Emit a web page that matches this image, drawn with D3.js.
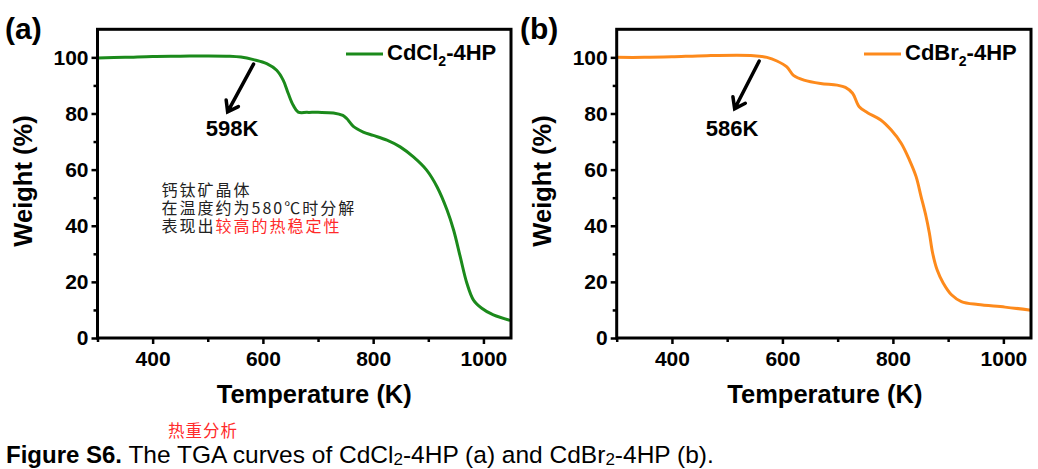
<!DOCTYPE html>
<html>
<head>
<meta charset="utf-8">
<script src="https://cdn.jsdelivr.net/npm/d3@7"></script>
<style>
html,body{margin:0;padding:0;background:#fff;}
svg{display:block;}
.ax text{font-family:'Liberation Sans',Arial,sans-serif;font-weight:700;font-size:21px;fill:#000;}
.ax line{stroke:#000;stroke-width:2.5px;}
.ax path{display:none;}
.bold{font-family:'Liberation Sans',Arial,sans-serif;font-weight:700;fill:#000;}
.cjk{font-family:'Noto Sans CJK SC',sans-serif;}
</style>
</head>
<body>
<svg id="fig" width="1038" height="469"></svg>
<script>
// TGA curves: temperature (K) and weight (%)
const tempsA =[300,350,400,450,500,540,560,583,607,625,637,646,655,664,680,700,728,745,752,764,782,800,825,849,873,897,916,934,946,958,970,982,997,1018,1050];
const weightA=[99.8,100,100.3,100.4,100.5,100.4,100.1,99.2,97.8,95.4,91.8,87.1,82.9,80.5,80.4,80.4,80.2,79.3,78.2,75.4,73.4,72.2,70.5,68.1,64.5,59.8,53.8,45.6,38.4,28.9,19.5,13.5,10.6,8.2,6.2];
const tempsB =[300,350,400,463,548,572,590,608,620,639,669,699,714,727,739,754,778,797,815,830,842,851,860,866,872,880,891,906,924,954,1003,1050];
const weightB=[100,100,100.2,100.6,100.6,100,98.7,96.6,93.6,91.9,90.7,90.1,89.3,87.2,82.4,80.3,77.7,74.1,69.4,63.4,57.5,50.4,43.3,37.4,30.2,24.3,19.6,15.4,13.0,11.9,11.0,9.9];

const xDomain=[300,1050], yDomain=[0,110];
const xTicks=[400,600,800,1000], xMinor=[300,500,700,900];
const yTicks=[0,20,40,60,80,100], yMinor=[10,30,50,70,90];

// onset annotations: arrow start, arrow tip, label anchor (data units)
const arrowA=[[583,97.6],[536,80.6]], labelA=[544,71.9], onsetA='598K';
const arrowB=[[558,98.7],[513.5,81.7]], labelB=[509,71.9], onsetB='586K';

const noteLines=['钙钛矿晶体','在温度约为580℃时分解'];
const noteLast=['表现出','较高的热稳定性'];

const svg=d3.select('#fig');

const panels=[
  {tag:'(a)',lx:5,x0:97.5,x1:511,temps:tempsA,weight:weightA,color:'#1b8a1b',name:'CdCl',legX:346,
   arrow:arrowA,label:labelA,onset:onsetA,titleDx:10},
  {tag:'(b)',lx:520,x0:616.7,x1:1031,temps:tempsB,weight:weightB,color:'#fd8a1c',name:'CdBr',legX:864,
   arrow:arrowB,label:labelB,onset:onsetB,titleDx:1}
];
const plotTop=29.3,plotBottom=338;

panels.forEach((p,i)=>{
  const x=d3.scaleLinear().domain(xDomain).range([p.x0,p.x1]);
  const y=d3.scaleLinear().domain(yDomain).range([plotBottom,plotTop]);
  const g=svg.append('g');

  // axes
  g.append('g').attr('class','ax').attr('transform',`translate(0,${plotBottom})`)
    .call(d3.axisBottom(x).tickValues(xTicks).tickSize(6).tickSizeOuter(0).tickPadding(7).tickFormat(d3.format('d')));
  g.append('g').attr('class','ax').attr('transform',`translate(0,${plotBottom})`)
    .call(d3.axisBottom(x).tickValues(xMinor).tickSize(4).tickSizeOuter(0).tickFormat(''));
  g.append('g').attr('class','ax').attr('transform',`translate(${p.x0},0)`)
    .call(d3.axisLeft(y).tickValues(yTicks).tickSize(6).tickSizeOuter(0).tickPadding(3));
  g.append('g').attr('class','ax').attr('transform',`translate(${p.x0},0)`)
    .call(d3.axisLeft(y).tickValues(yMinor).tickSize(4).tickSizeOuter(0).tickFormat(''));

  const cid='clip'+i;
  g.append('clipPath').attr('id',cid).append('rect')
    .attr('x',p.x0).attr('y',plotTop).attr('width',p.x1-p.x0).attr('height',plotBottom-plotTop);

  const line=d3.line().x((d,j)=>x(p.temps[j])).y(d=>y(d)).curve(d3.curveCatmullRom.alpha(0.5));
  g.append('path').datum(p.weight).attr('clip-path',`url(#${cid})`)
    .attr('d',line).attr('fill','none').attr('stroke',p.color).attr('stroke-width',3)
    .attr('stroke-linejoin','round').attr('stroke-linecap','round');

  // frame
  g.append('rect').attr('x',p.x0).attr('y',plotTop).attr('width',p.x1-p.x0).attr('height',plotBottom-plotTop)
    .attr('fill','none').attr('stroke','#000').attr('stroke-width',3);

  // titles
  g.append('text').attr('class','bold').attr('font-size',25.5).attr('text-anchor','middle')
    .attr('x',(p.x0+p.x1)/2+p.titleDx).attr('y',403).text('Temperature (K)');
  g.append('text').attr('class','bold').attr('font-size',25.5).attr('text-anchor','middle')
    .attr('transform',`translate(${p.x0-66},181) rotate(-90)`).text('Weight (%)');
  g.append('text').attr('class','bold').attr('font-size',30).attr('x',p.lx).attr('y',39).text(p.tag);

  // legend
  g.append('line').attr('x1',p.legX).attr('x2',p.legX+37).attr('y1',54).attr('y2',54)
    .attr('stroke',p.color).attr('stroke-width',3);
  const lt=g.append('text').attr('class','bold').attr('font-size',22).attr('x',p.legX+41).attr('y',60);
  lt.append('tspan').text(p.name);
  lt.append('tspan').attr('font-size',14).attr('dy',6).text('2');
  lt.append('tspan').attr('dy',-6).text('-4HP');

  // onset arrow
  const [s,t]=p.arrow.map(d=>[x(d[0]),y(d[1])]);
  const ang=Math.atan2(s[1]-t[1],s[0]-t[0]), L=12, sp=0.62;
  const h1=[t[0]+L*Math.cos(ang+sp),t[1]+L*Math.sin(ang+sp)];
  const h2=[t[0]+L*Math.cos(ang-sp),t[1]+L*Math.sin(ang-sp)];
  g.append('path').attr('d',`M${s}L${t}M${h1}L${t}L${h2}`)
    .attr('fill','none').attr('stroke','#000').attr('stroke-width',3.5)
    .attr('stroke-linecap','round').attr('stroke-linejoin','miter');
  g.append('text').attr('class','bold').attr('font-size',22).attr('text-anchor','middle')
    .attr('x',x(p.label[0])).attr('y',y(p.label[1])).text(p.onset);
});

// Chinese note in panel (a)
const note=svg.append('text').attr('class','cjk').attr('font-size',16).attr('letter-spacing',2).attr('fill','#222');
noteLines.forEach((s,k)=>note.append('tspan').attr('x',161.5).attr('y',196+18*k).text(s));
note.append('tspan').attr('x',161.5).attr('y',232).text(noteLast[0]);
note.append('tspan').attr('fill','#ff2a2a').text(noteLast[1]);

// caption
svg.append('text').attr('class','cjk').attr('font-size',16.5).attr('letter-spacing',1).attr('fill','#ff2a2a')
  .attr('x',168).attr('y',437).text('热重分析');
const cap=svg.append('text').attr('x',6).attr('y',463)
  .attr('font-family','Liberation Sans,Arial,sans-serif').attr('font-size',24.5).attr('fill','#000');
cap.append('tspan').attr('font-weight',700).attr('font-size',24).text('Figure S6.');
cap.append('tspan').text(' The TGA curves of CdCl');
cap.append('tspan').attr('font-size',17).attr('dy',2).text('2');
cap.append('tspan').attr('dy',-2).text('-4HP (a) and CdBr');
cap.append('tspan').attr('font-size',17).attr('dy',2).text('2');
cap.append('tspan').attr('dy',-2).text('-4HP (b).');
</script>
</body>
</html>
